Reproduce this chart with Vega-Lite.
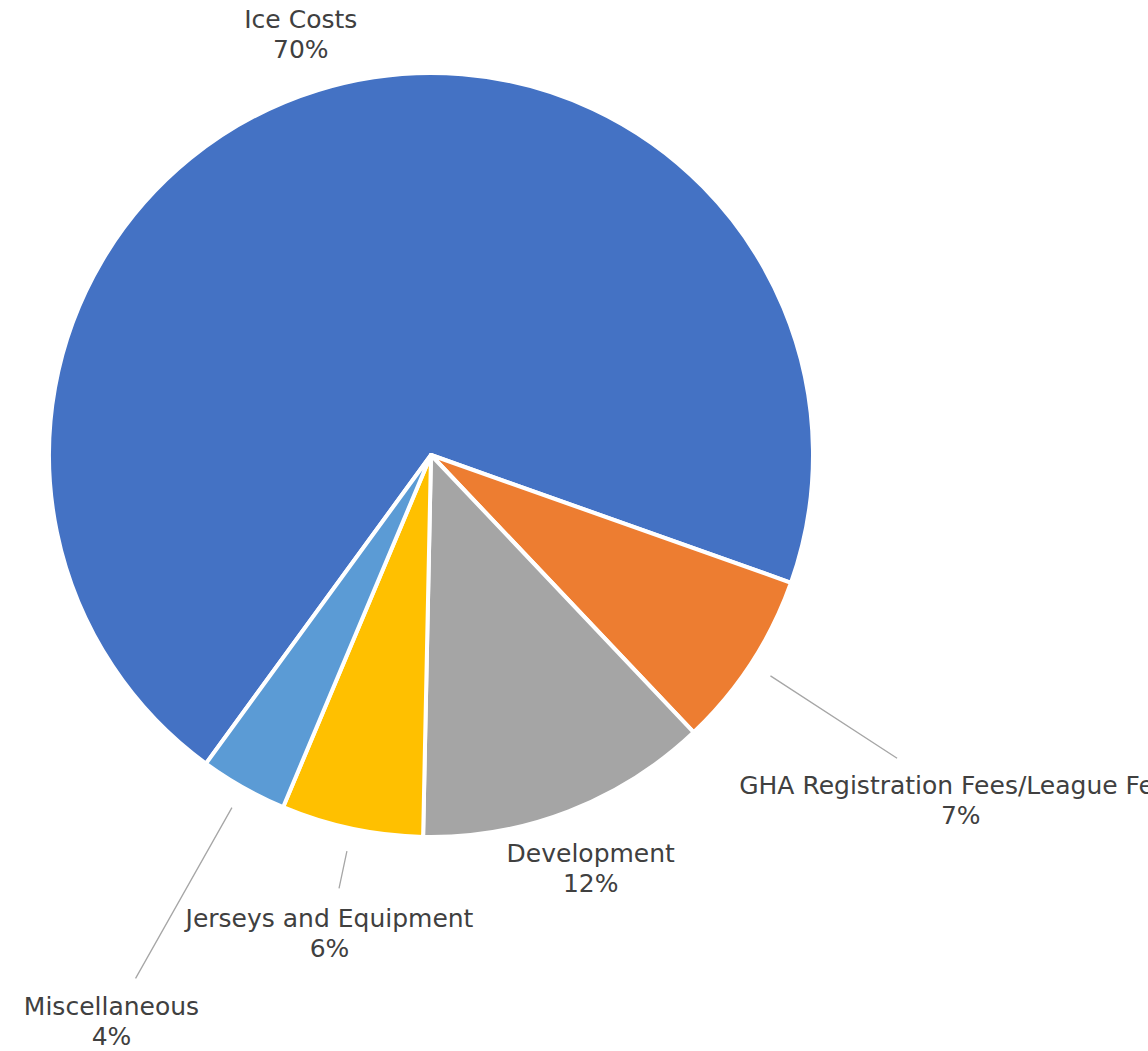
{
  "$schema": "https://vega.github.io/schema/vega-lite/v6.json",
  "width": 862,
  "height": 910,
  "autosize": {"type": "none"},
  "padding": {"left": 0, "top": 0, "right": 286, "bottom": 141},
  "background": "white",
  "view": {"stroke": null},
  "data": {
    "values": [
      {"category": "Ice Costs", "value": 70.4, "label": "Ice Costs\n70%", "order": 1},
      {"category": "GHA Registration Fees/League Fees", "value": 7.5, "label": "GHA Registration Fees/League Fees\n7%", "order": 2},
      {"category": "Development", "value": 12.4, "label": "Development\n12%", "order": 3},
      {"category": "Jerseys and Equipment", "value": 6.0, "label": "Jerseys and Equipment\n6%", "order": 4},
      {"category": "Miscellaneous", "value": 3.7, "label": "Miscellaneous\n4%", "order": 5}
    ]
  },
  "encoding": {
    "theta": {"field": "value", "type": "quantitative", "stack": true, "scale": {"range": [3.7717, 10.0549]}},
    "order": {"field": "order", "type": "quantitative"}
  },
  "layer": [
    {
      "mark": {"type": "arc", "outerRadius": 382, "stroke": "white", "strokeWidth": 4, "strokeJoin": "round"},
      "encoding": {
        "color": {
          "field": "category",
          "type": "nominal",
          "legend": null,
          "scale": {
            "domain": ["Ice Costs", "GHA Registration Fees/League Fees", "Development", "Jerseys and Equipment", "Miscellaneous"],
            "range": ["#4472C4", "#ED7D31", "#A5A5A5", "#FFC000", "#5B9BD5"]
          }
        }
      }
    },
    {
      "mark": {
        "type": "arc",
        "padAngle": 2,
        "innerRadius": 405,
        "outerRadius": {"expr": "datum.category === 'Miscellaneous' ? 601 : datum.category === 'Jerseys and Equipment' ? 443 : 556"},
        "fill": "white",
        "fillOpacity": 0,
        "stroke": "#A6A6A6",
        "strokeWidth": 1.3
      },
      "encoding": {
        "strokeOpacity": {
          "condition": {"test": "datum.category === 'Ice Costs' || datum.category === 'Development'", "value": 0},
          "value": 1
        }
      }
    },
    {
      "mark": {
        "type": "text",
        "font": "DejaVu Sans",
        "fontSize": 25,
        "lineHeight": 30,
        "lineBreak": "\n",
        "color": "#404040",
        "align": "center",
        "baseline": "middle",
        "dy": -14,
        "radius": {"expr": "datum.category === 'Ice Costs' ? 441 : datum.category === 'GHA Registration Fees/League Fees' ? 632 : datum.category === 'Development' ? 443 : datum.category === 'Jerseys and Equipment' ? 489 : 650"}
      },
      "encoding": {
        "text": {"field": "label", "type": "nominal"}
      }
    }
  ]
}
